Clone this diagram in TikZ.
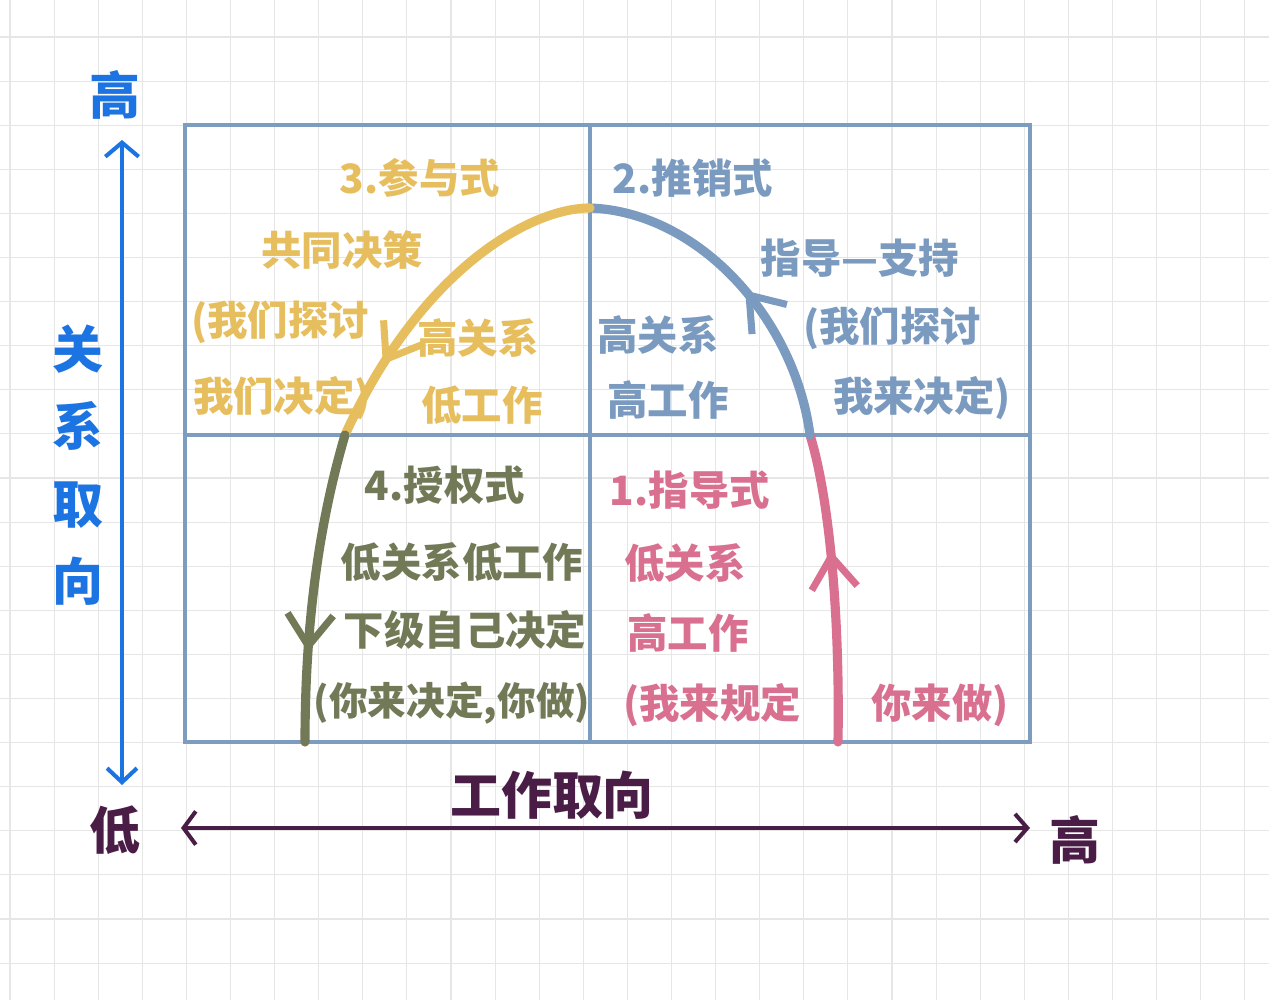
\documentclass[tikz,border=0pt]{standalone}
\usepackage{fontspec}
\setmainfont{Noto Sans CJK SC}
\usetikzlibrary{arrows.meta,decorations.markings}

\definecolor{boxblue}{HTML}{7C9CC0}
\definecolor{archyellow}{HTML}{E6BE5E}
\definecolor{archblue}{HTML}{7A9BBF}
\definecolor{archolive}{HTML}{727957}
\definecolor{archpink}{HTML}{D9708F}
\definecolor{axisblue}{HTML}{1C74E2}
\definecolor{axispurple}{HTML}{4A1D46}
\definecolor{gridgray}{HTML}{E6E6E6}

\tikzset{
  txt/.style={inner sep=0pt,font=\fontsize{23}{27}\selectfont\bfseries},
  axistxt/.style={inner sep=0pt,font=\fontsize{29}{44}\selectfont\bfseries},
  arch/.style={line width=5.2pt,line cap=round},
  frame/.style={draw=boxblue,line width=2.3pt,line cap=round},
  midtip/.style={postaction={decorate},decoration={markings,
    mark=at position #1 with {\arrow{Straight Barb[length=18pt,width=26pt,line width=4pt]}}}},
}

\begin{document}
\begin{tikzpicture}[x=0.02cm,y=-0.02cm]
\useasboundingbox (0,0) rectangle (1269,1000);
\fill[white] (0,0) rectangle (1269,1000);

% graph paper
\foreach \i in {0,...,28} \draw[gridgray,line width=0.6pt] ({10+44.1*\i},0) -- ({10+44.1*\i},1000);
\foreach \j in {0,...,22} \draw[gridgray,line width=0.6pt] (0,{37+44.1*\j}) -- (1269,{37+44.1*\j});

% quadrants
\draw[frame] (185,125) rectangle (1030,742);
\draw[frame] (590,125) -- (590,742);
\draw[frame] (185,435) -- (1030,435);

% arch points
\coordinate (P1) at (838,742);
\coordinate (P2) at (810,435);
\coordinate (P3) at (590,208);
\coordinate (P4) at (345,435);
\coordinate (P5) at (305,742);

\draw[arch,archpink,midtip=0.62] (P1) .. controls (840,620) and (830,500) .. (P2);
\draw[arch,archblue,midtip=0.47] (P2) .. controls (795,320) and (700,212) .. (P3);
\draw[arch,archyellow,midtip=0.77] (P3) .. controls (530,208) and (420,270) .. (P4);
\draw[arch,archolive,midtip=0.71] (P4) .. controls (320,520) and (305,620) .. (P5);

% 3
\node (S3title) at (420,178) [txt,archyellow] {3.参与式};
\node (S3a) at (342,250) [txt,archyellow] {共同决策};
\node (S3b) at (280,322) [txt,archyellow] {(我们探讨};
\node (S3c) at (282,398) [txt,archyellow] {我们决定)};
\node (S3d) at (478,338) [txt,archyellow] {高关系};
\node (S3e) at (482,405) [txt,archyellow] {低工作};

% 2
\node (S2title) at (693,178) [txt,archblue] {2.推销式};
\node (S2a) at (860,258) [txt,archblue] {指导—支持};
\node (S2b) at (892,328) [txt,archblue] {(我们探讨};
\node (S2c) at (922,398) [txt,archblue] {我来决定)};
\node (S2d) at (658,335) [txt,archblue] {高关系};
\node (S2e) at (668,400) [txt,archblue] {高工作};

% 4
\node (S4title) at (445,485) [txt,archolive] {4.授权式};
\node (S4a) at (462,562) [txt,archolive] {低关系低工作};
\node (S4b) at (465,630) [txt,archolive] {下级自己决定};
\node (S4c) at (452,703) [txt,archolive,font=\fontsize{22}{26}\selectfont\bfseries] {(你来决定,你做)};

% 1
\node (S1title) at (690,490) [txt,archpink] {1.指导式};
\node (S1a) at (685,563) [txt,archpink] {低关系};
\node (S1b) at (688,633) [txt,archpink] {高工作};
\node (S1c) at (712,705) [txt,archpink] {(我来规定};
\node (S1d) at (940,705) [txt,archpink] {你来做)};

% axes
\coordinate (Ylow) at (122,785);
\coordinate (Yhigh) at (122,140);
\coordinate (Xlow) at (181,828);
\coordinate (Xhigh) at (1030,828);
\draw[axisblue,line width=2.3pt,{Straight Barb[length=8pt,width=17pt,line width=2.3pt]}-{Straight Barb[length=8pt,width=19pt,line width=2.3pt]}] (Ylow) -- (Yhigh);
\draw[axispurple,line width=2.3pt,{Straight Barb[length=7pt,width=19pt,line width=2.3pt]}-{Straight Barb[length=7pt,width=16pt,line width=2.3pt]}] (Xlow) -- (Xhigh);

\node (Yhightxt) at (115,95) [axistxt,axisblue] {高};
\node (Ytitle) at (78,465) [axistxt,axisblue,align=center] {关\\系\\取\\向};
\node (Xlowtxt) at (115,830) [axistxt,axispurple] {低};
\node (Xtitle) at (552,795) [axistxt,axispurple] {工作取向};
\node (Xhightxt) at (1075,840) [axistxt,axispurple] {高};
\end{tikzpicture}
\end{document}
